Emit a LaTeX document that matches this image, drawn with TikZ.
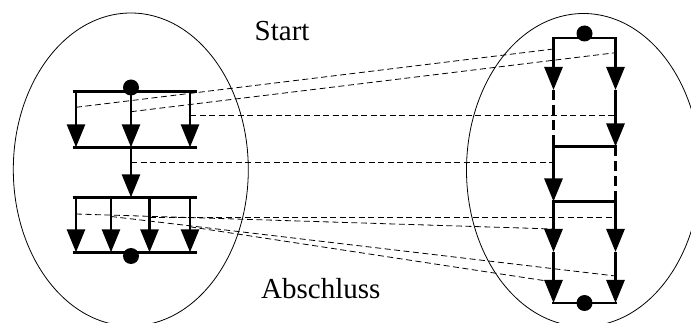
\documentclass[tikz,border=0pt]{standalone}
\usepackage{fontspec}
\setmainfont{Liberation Serif}
\usetikzlibrary{arrows.meta}
\begin{document}
\begin{tikzpicture}[x=1pt,y=-1pt,
  thickline/.style={line width=2.8pt},
  flow/.style={thickline,-{Triangle[length=23pt,width=18pt]}},
  gapline/.style={thickline,dash pattern=on 10pt off 5pt},
  barline/.style={thickline,line cap=rect},
  lbar/.style={thickline},
  mapline/.style={line width=0.8pt,dash pattern=on 6pt off 3.5pt},
  setline/.style={line width=0.8pt},
  dotnode/.style={circle,fill=black,draw=none,inner sep=0pt,minimum size=16pt},
  label/.style={inner sep=0pt,font=\fontsize{29}{34}\selectfont}
]
\useasboundingbox (0,0) rectangle (691,323);
\clip (0,0) rectangle (691,323);

% the two sets
\draw[setline] (130.8,169.5) ellipse [x radius=117.5pt, y radius=156.5pt];
\draw[setline] (583.5,170) ellipse [x radius=117pt, y radius=156.5pt];

% labels
\node[label,anchor=base west] (start) at (254.5,41) {Start};
\node[label,anchor=base west] (abschluss) at (261,298.3) {Abschluss};

% ---------- left structure ----------
% top block
\coordinate (ltbl) at (72.7,91.5);  \coordinate (ltbr) at (196.7,91.5);
\coordinate (lbbl) at (72.7,147.3); \coordinate (lbbr) at (196.7,147.3);
\coordinate (lt1) at (76,91.5);  \coordinate (lb1) at (76,147.3);
\coordinate (lt2) at (131,91.5); \coordinate (lb2) at (131,147.3);
\coordinate (lt3) at (190,91.5); \coordinate (lb3) at (190,147.3);
% bottom block
\coordinate (mtbl) at (72.7,197.3); \coordinate (mtbr) at (196.7,197.3);
\coordinate (mbbl) at (72.7,252.3); \coordinate (mbbr) at (196.7,252.3);
\coordinate (mmid) at (131,197.3);
\coordinate (mt1) at (76,197.3);    \coordinate (mb1) at (76,252.3);
\coordinate (mt2) at (111,197.3);   \coordinate (mb2) at (111,252.3);
\coordinate (mt3) at (149.5,197.3); \coordinate (mb3) at (149.5,252.3);
\coordinate (mt4) at (190,197.3);   \coordinate (mb4) at (190,252.3);

% ---------- right structure ----------
\coordinate (r1l) at (553.5,38);    \coordinate (r1r) at (615.5,38);
\coordinate (a1l) at (553.5,90);    \coordinate (a1r) at (615.5,90);
\coordinate (r2l) at (553.5,146.5); \coordinate (r2r) at (615.5,146.5);
\coordinate (r3l) at (553.5,201.5); \coordinate (r3r) at (615.5,201.5);
\coordinate (a3l) at (553.5,252);   \coordinate (a3r) at (615.5,252);
\coordinate (r4l) at (553.5,303);   \coordinate (r4r) at (615.5,303);

% ---------- mapping lines ----------
\coordinate (pA) at (76,107.3);   \coordinate (qA) at (553.5,49);
\coordinate (pB) at (131,111.7);  \coordinate (qB) at (615.5,52.7);
\coordinate (pC) at (190,115.3);  \coordinate (qC) at (615.5,115.3);
\coordinate (pD) at (131,162.3);  \coordinate (qD) at (553.5,162.3);
\coordinate (pE) at (76,214);     \coordinate (qE) at (553.5,229);
\coordinate (pF) at (149.5,217.3);\coordinate (qF) at (615.5,217.3);
\coordinate (pG) at (111,216.5);  \coordinate (qG) at (615.5,276);
\coordinate (pH) at (190,226.8);  \coordinate (qH) at (553.5,282);
\draw[mapline] (pA) -- (qA);
\draw[mapline] (pB) -- (qB);
\draw[mapline] (pC) -- (qC);
\draw[mapline] (pD) -- (qD);
\draw[mapline] (pE) -- (qE);
\draw[mapline] (pF) -- (qF);
\draw[mapline] (pG) -- (qG);
\draw[mapline] (pH) -- (qH);

% left drawing
\draw[lbar] (ltbl) -- (ltbr);
\draw[lbar] (lbbl) -- (lbbr);
\draw[flow] (lt1) -- (lb1);
\draw[flow] (lt2) -- (lb2);
\draw[flow] (lt3) -- (lb3);
\draw[flow] (lb2) -- (mmid);
\draw[lbar] (mtbl) -- (mtbr);
\draw[lbar] (mbbl) -- (mbbr);
\draw[flow] (mt1) -- (mb1);
\draw[flow] (mt2) -- (mb2);
\draw[flow] (mt3) -- (mb3);
\draw[flow] (mt4) -- (mb4);
\node[dotnode] (ldotA) at (131,87.5) {};
\node[dotnode] (ldotB) at (131,256) {};

% right drawing
\draw[barline] (r1l) -- (r1r);
\draw[flow] (r1l) -- (a1l);
\draw[flow] (r1r) -- (a1r);
\draw[gapline] (a1l) -- (r2l);
\draw[flow] (a1r) -- (r2r);
\draw[barline] (r2l) -- (r2r);
\draw[flow] (r2l) -- (r3l);
\draw[gapline] (r2r) -- (r3r);
\draw[barline] (r3l) -- (r3r);
\draw[flow] (r3l) -- (a3l);
\draw[flow] (r3r) -- (a3r);
\draw[flow] (a3l) -- (r4l);
\draw[flow] (a3r) -- (r4r);
\draw[barline] (r4l) -- (r4r);
\node[dotnode] (rdotA) at (584.5,33.5) {};
\node[dotnode] (rdotB) at (584.5,303) {};
\end{tikzpicture}
\end{document}
